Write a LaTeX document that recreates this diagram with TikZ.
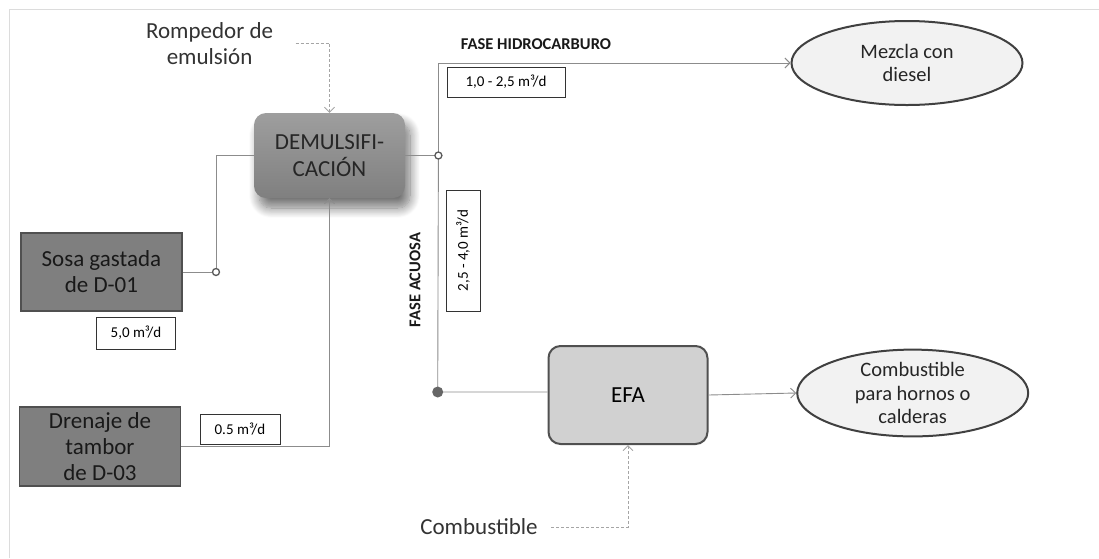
\documentclass[tikz,border=0pt]{standalone}
\usepackage{fontspec}
\setmainfont{Carlito}
\usepackage{xcolor}
\usetikzlibrary{arrows.meta,shapes.geometric,shadows.blur}
\definecolor{linegray}{RGB}{140,140,140}
\definecolor{dashgray}{RGB}{165,165,165}
\definecolor{darkedge}{RGB}{80,80,80}
\definecolor{srcfill}{RGB}{127,127,127}
\definecolor{framegray}{RGB}{220,220,220}

\begin{document}
\begin{tikzpicture}[x=1pt, y=1pt,
  srcbox/.style={draw=darkedge, line width=1.5pt, fill=srcfill, minimum width=161pt,
                 align=center, font=\fontsize{23}{26}\selectfont, text=black!90},
  procbox/.style={rounded corners=12pt, top color=black!38, bottom color=black!50,
                  minimum width=151pt, minimum height=85pt, align=center,
                  font=\fontsize{23}{27}\selectfont, text=black!85,
                  blur shadow={shadow xshift=5pt, shadow yshift=-10pt, shadow blur steps=12,
                               shadow blur radius=10pt, shadow opacity=55}},
  efabox/.style={draw=darkedge, line width=2pt, rounded corners=12pt, fill=black!18,
                 minimum width=159pt, minimum height=98pt, font=\fontsize{23}{26}\selectfont},
  prodell/.style={ellipse, draw=black!75, line width=2pt, fill=black!5, inner sep=0pt,
                  minimum width=231pt, minimum height=84pt, align=center,
                  font=\fontsize{20.5}{23.5}\selectfont, text=black!85},
  flowbox/.style={draw=black!80, fill=white, line width=0.8pt, inner sep=0pt,
                  font=\fontsize{15}{17}\selectfont},
  phase/.style={font=\fontsize{16.5}{18}\selectfont\bfseries, text=black!90},
  lbl/.style={align=center, font=\fontsize{23}{26}\selectfont, text=black!80},
  flow/.style={draw=linegray, line width=0.9pt},
  arr/.style={flow, -{Straight Barb[length=5pt, width=10pt]}},
  dashline/.style={draw=dashgray, line width=0.9pt, dash pattern=on 3pt off 2pt,
                   -{Straight Barb[length=5pt, width=10pt]}},
  openjoint/.style={circle, draw=black!65, fill=white, line width=1.3pt,
                    inner sep=0pt, minimum size=7pt},
  fulljoint/.style={circle, fill=black!60, inner sep=0pt, minimum size=11pt}
]
\useasboundingbox (0,0) rectangle (1099,-558);

% frame
\draw[framegray, line width=0.8pt] (9.5,-558) -- (9.5,-9.5) -- (1099,-9.5);

% sources and process units
\node[srcbox, minimum height=78pt] (sosa) at (101.4,-272) {Sosa gastada\\de D-01};
\node[srcbox, minimum height=79pt] (dren) at (100,-446.5) {Drenaje de\\tambor\\de D-03};
\node[procbox] (dem) at (329.5,-155.5) {DEMULSIFI-\\CACIÓN};
\node[efabox] (efa) at (628,-395) {EFA};

% products
\node[prodell] (mez) at (907,-63) {Mezcla con\\diesel};
\node[prodell] (comb) at (912.7,-393) {Combustible\\para hornos o\\calderas};

% additives
\node[lbl] (romp) at (209.6,-44) {Rompedor de\\emulsión};
\node[lbl] (fuel) at (479,-527) {Combustible};

% flow rates
\node[flowbox, minimum width=79.5pt, minimum height=32pt] (q1) at (136,-333) {5,0 m³/d};
\node[flowbox, minimum width=80pt, minimum height=30pt] (q2) at (240,-429) {0.5 m³/d};
\node[flowbox, minimum width=118pt, minimum height=30pt] (q3) at (506,-82) {1,0 - 2,5 m³/d};
\node[flowbox, rotate=90, minimum width=121pt, minimum height=34pt] (q4) at (463,-250.5) {2,5 - 4,0 m³/d};

% phase labels
\node[phase] (hc) at (536,-44) {FASE HIDROCARBURO};
\node[phase, rotate=90] (ac) at (415,-280) {FASE ACUOSA};

% junctions
\coordinate (j1) at (216,-272);
\coordinate (j2) at (438.4,-155.5);
\coordinate (j3) at (437.7,-392);

% lines
\draw[flow] (sosa.east) -- (j1) |- (dem.west);
\draw[arr] (dren.east) -| (dem.south);
\draw[flow] (dem.east) -- (j2);
\draw[arr] (j2) |- (mez.west);
\draw[flow] (j2) -- (j3) -- (j3 -| efa.west);
\draw[arr] (efa.east) -- (comb.west);
\draw[dashline] ([xshift=19pt, yshift=1pt]romp.east) -| (dem.north);
\draw[dashline] ([xshift=10pt]fuel.east) -| (efa.south);

\node[openjoint] at (j1) {};
\node[openjoint] at (j2) {};
\node[fulljoint] at (j3) {};

\end{tikzpicture}
\end{document}
